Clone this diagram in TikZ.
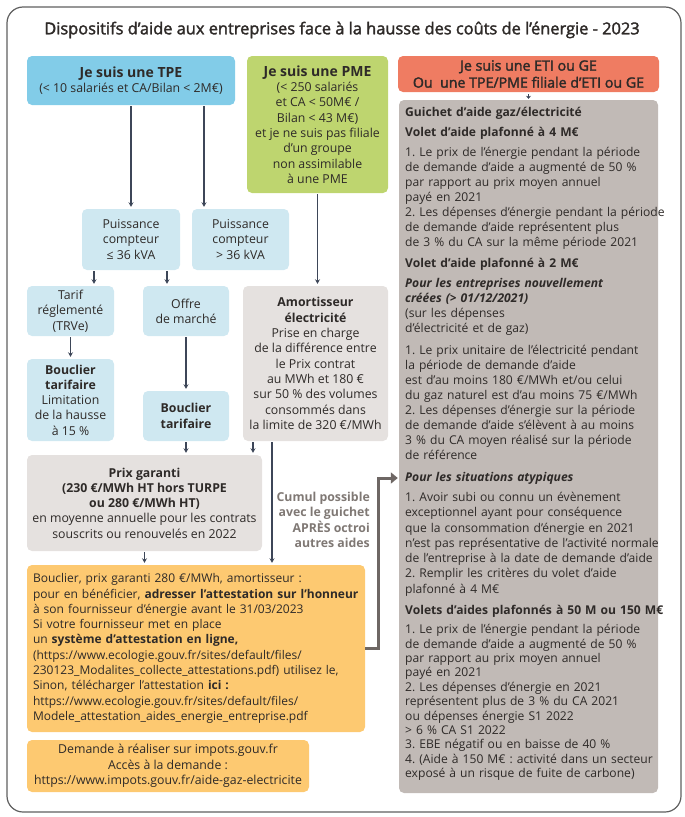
\documentclass[tikz,border=0pt]{standalone}
\usepackage{fontspec}
\setmainfont{Open Sans}
\newfontfamily\semifont[FakeBold=2]{Open Sans}
\usetikzlibrary{arrows.meta,calc}
\definecolor{tpeblue}{HTML}{82CCE8}
\definecolor{lightblue}{HTML}{CFE8F1}
\definecolor{pmegreen}{HTML}{BED56F}
\definecolor{etired}{HTML}{EF7C62}
\definecolor{guichetgray}{HTML}{C1BAB6}
\definecolor{lightgray}{HTML}{E5E1DF}
\definecolor{orangebox}{HTML}{FDC971}
\definecolor{arrowc}{HTML}{3D4658}
\definecolor{connc}{HTML}{6E6764}
\definecolor{txt}{HTML}{2E2A28}
\definecolor{cumulc}{HTML}{7F7874}
\definecolor{framec}{HTML}{5F5F5F}
\newcommand\bodyfont{\fontsize{12.3}{15.3}\selectfont}
\newcommand\grayfont{\fontsize{12.1}{15}\selectfont}
\newcommand\headfont{\fontsize{14}{17}\selectfont\bfseries}
\frenchspacing
\begin{document}
\begin{tikzpicture}[x=1pt,y=-1pt,
 box/.style={rounded corners=5pt, inner sep=0pt, align=center, text=txt, font=\bodyfont},
 arr/.style={draw=arrowc, line width=1.1pt, -{Stealth[length=4.5pt,width=5pt]}, shorten >=2pt, shorten <=1pt},
 conn/.style={draw=connc, line width=3pt, -{Triangle[length=7pt,width=11pt]}, shorten >=1pt},
 gtxt/.style={anchor=north west, inner sep=0pt, text width=270pt, align=left, text=txt, font=\grayfont},
]
\useasboundingbox (0,0) rectangle (685,817);
\draw[framec, line width=1.2pt, rounded corners=16pt] (7,7) rectangle (681,812);

\node[font={\semifont\fontsize{16.4}{19}\selectfont}, text=txt, inner sep=0pt] (title) at (342,30)
 {Dispositifs d’aide aux entreprises face à la hausse des coûts de l’énergie - 2023};

% top row
\node[box, fill=tpeblue, minimum width=208pt, minimum height=49pt] (tpe) at (131,80.5)
 {{\headfont Je suis une TPE}\\(< 10 salariés et CA/Bilan < 2M€)};
\node[box, fill=pmegreen, minimum width=141pt, minimum height=137pt] (pme) at (317.5,124.5)
 {{\headfont Je suis une PME}\\(< 250 salariés\\et CA < 50M€ /\\Bilan < 43 M€)\\et je ne suis pas filiale\\d’un groupe\\non assimilable\\à une PME};
\node[box, fill=etired, minimum width=261pt, minimum height=36pt, font={\semifont\fontsize{14.2}{17}\selectfont}] (eti) at (528.5,74)
 {Je suis une ETI ou GE\\Ou\ \ une TPE/PME filiale d’ETI ou GE};

% guichet
\node[box, fill=guichetgray, minimum width=259pt, minimum height=693pt] (guichet) at (528.5,446.5) {};

% blue second row
\node[box, fill=lightblue, minimum width=98pt, minimum height=61pt] (ple) at (131,239.5)
 {Puissance\\compteur\\≤ 36 kVA};
\node[box, fill=lightblue, minimum width=97pt, minimum height=61pt] (pgt) at (240.5,239.5)
 {Puissance\\compteur\\> 36 kVA};

\node[box, fill=lightblue, minimum width=87pt, minimum height=50pt] (tarif) at (70.5,311)
 {Tarif\\réglementé\\(TRVe)};
\node[box, fill=lightblue, minimum width=86pt, minimum height=50pt] (offre) at (186,311)
 {Offre\\de marché};
\node[box, fill=lightgray, minimum width=145pt, minimum height=155pt] (amort) at (315.5,363.5)
 {\textbf{Amortisseur}\\\textbf{électricité}\\Prise en charge\\de la différence entre\\le Prix contrat\\au MWh et 180 €\\sur 50 \% des volumes\\consommés dans\\la limite de 320 €/MWh};

\node[box, fill=lightblue, minimum width=87pt, minimum height=82pt] (bt1) at (70.5,400)
 {\textbf{Bouclier}\\\textbf{tarifaire}\\Limitation\\de la hausse\\à 15 \%};
\node[box, fill=lightblue, minimum width=86pt, minimum height=50pt] (bt2) at (186,416)
 {\textbf{Bouclier}\\\textbf{tarifaire}};

\node[box, fill=lightgray, minimum width=235pt, minimum height=96pt] (prix) at (144.5,503)
 {\textbf{Prix garanti}\\\textbf{(230 €/MWh HT hors TURPE}\\\textbf{ou 280 €/MWh HT)}\\en moyenne annuelle pour les contrats\\souscrits ou renouvelés en 2022};

\node[inner sep=0pt, align=right, text=cumulc, font={\bodyfont\bfseries}, anchor=east] (cumul) at (370,520)
 {Cumul possible\\avec le guichet\\APRÈS octroi\\autres aides};

\node[box, fill=orangebox, minimum width=338pt, minimum height=167pt, text width=326pt, align=left, font={\fontsize{12}{15.3}\selectfont}] (or1) at (196,648.5)
 {Bouclier, prix garanti 280 €/MWh, amortisseur :\\
 \mbox{pour en bénéficier, \textbf{adresser l'attestation sur l'honneur}}\\
 à son fournisseur d'énergie avant le 31/03/2023\\
 Si votre fournisseur met en place\\
 un \textbf{système d'attestation en ligne,}\\
 (https://www.ecologie.gouv.fr/sites/default/files/\\
 \mbox{230123\_Modalites\_collecte\_attestations.pdf) utilisez le,}\\
 Sinon, télécharger l'attestation \textbf{ici :}\\
 https://www.ecologie.gouv.fr/sites/default/files/\\
 Modele\_attestation\_aides\_energie\_entreprise.pdf};

\node[box, fill=orangebox, minimum width=282pt, minimum height=52pt] (or2) at (168,766)
 {Demande à réaliser sur impots.gouv.fr\\Accès à la demande :\\https://www.impots.gouv.fr/aide-gaz-electricite};

% guichet texts
\node[gtxt, font={\grayfont\bfseries}] (g1) at (405,105.5) {\strut Guichet d’aide gaz/électricité};
\node[gtxt, font={\grayfont\bfseries}] (g2) at (405,125.5) {\strut Volet d’aide plafonné à 4 M€};
\node[gtxt] (g3) at (405,145.5) {\strut 1. Le prix de l’énergie pendant la période\\
 de demande d’aide a augmenté de 50 \%\\
 par rapport au prix moyen annuel\\
 payé en 2021\\
 2. Les dépenses d’énergie pendant la période\\
 de demande d’aide représentent plus\\
 de 3 \% du CA sur la même période 2021};
\node[gtxt, font={\grayfont\bfseries}] (g4) at (405,256.5) {\strut Volet d’aide plafonné à 2 M€};
\node[gtxt] (g5) at (405,276.5) {\strut\textbf{\textit{Pour les entreprises nouvellement}}\\
 \textbf{\textit{créées (> 01/12/2021)}}\\
 (sur les dépenses\\
 d’électricité et de gaz)};
\node[gtxt] (g6) at (405,343.5) {\strut 1. Le prix unitaire de l’électricité pendant\\
 la période de demande d’aide\\
 est d’au moins 180 €/MWh et/ou celui\\
 du gaz naturel est d’au moins 75 €/MWh\\
 2. Les dépenses d’énergie sur la période\\
 de demande d’aide s’élèvent à au moins\\
 3 \% du CA moyen réalisé sur la période\\
 de référence};
\node[gtxt, font={\grayfont\bfseries\itshape}] (g7) at (405,470.5) {\strut Pour les situations atypiques};
\node[gtxt, font={\fontsize{12.1}{15.3}\selectfont}] (g8) at (405,490.5) {\strut 1. Avoir subi ou connu un évènement\\
 exceptionnel ayant pour conséquence\\
 que la consommation d’énergie en 2021\\
 n’est pas représentative de l’activité normale\\
 de l’entreprise à la date de demande d’aide\\
 2. Remplir les critères du volet d’aide\\
 plafonné à 4 M€};
\node[gtxt, font={\grayfont\bfseries}] (g9) at (405,603.5) {\strut Volets d’aides plafonnés à 50 M ou 150 M€};
\node[gtxt, font={\fontsize{12.1}{14.4}\selectfont}] (g10) at (405,623.5) {\strut 1. Le prix de l’énergie pendant la période\\
 de demande d’aide a augmenté de 50 \%\\
 par rapport au prix moyen annuel\\
 payé en 2021\\
 2. Les dépenses d’énergie en 2021\\
 représentent plus de 3 \% du CA 2021\\
 ou dépenses énergie S1 2022\\
 > 6 \% CA S1 2022\\
 3. EBE négatif ou en baisse de 40 \%\\
 4. (Aide à 150 M€ : activité dans un secteur\\
 exposé à un risque de fuite de carbone)};

% arrows
\draw[arr] (tpe.south) -- (ple.north);
\draw[arr] ([xshift=73pt]tpe.south) -- ([xshift=-36.5pt]pgt.north);
\draw[arr] (pme.south) -- ([xshift=2pt]amort.north);
\draw[arr] ([xshift=-37pt]ple.south) -- ([xshift=23.5pt]tarif.north);
\draw[arr] ([xshift=36pt]ple.south) -- ([xshift=-19pt]offre.north);
\draw[arr] (tarif.south) -- (bt1.north);
\draw[arr] (offre.south) -- (bt2.north);
\draw[arr] (bt2.south) -- ([xshift=41.5pt]prix.north);
\draw[arr] ([xshift=-62.5pt]amort.south) -- ([xshift=108.5pt]prix.north);
\draw[arr] ([xshift=-43.5pt]amort.south) -- ([xshift=76pt]or1.north);
\draw[arr] (prix.south) -- ([xshift=-51.5pt]or1.north);
\draw[draw=arrowc, line width=0.8pt, -{Stealth[length=3pt,width=5pt]}, shorten >=1pt, shorten <=2pt] (eti.south) -- (guichet.north);
\draw[conn] (or1.east) -- ++(13,0) |- ([yshift=-31.5pt]guichet.west);
\end{tikzpicture}
\end{document}
